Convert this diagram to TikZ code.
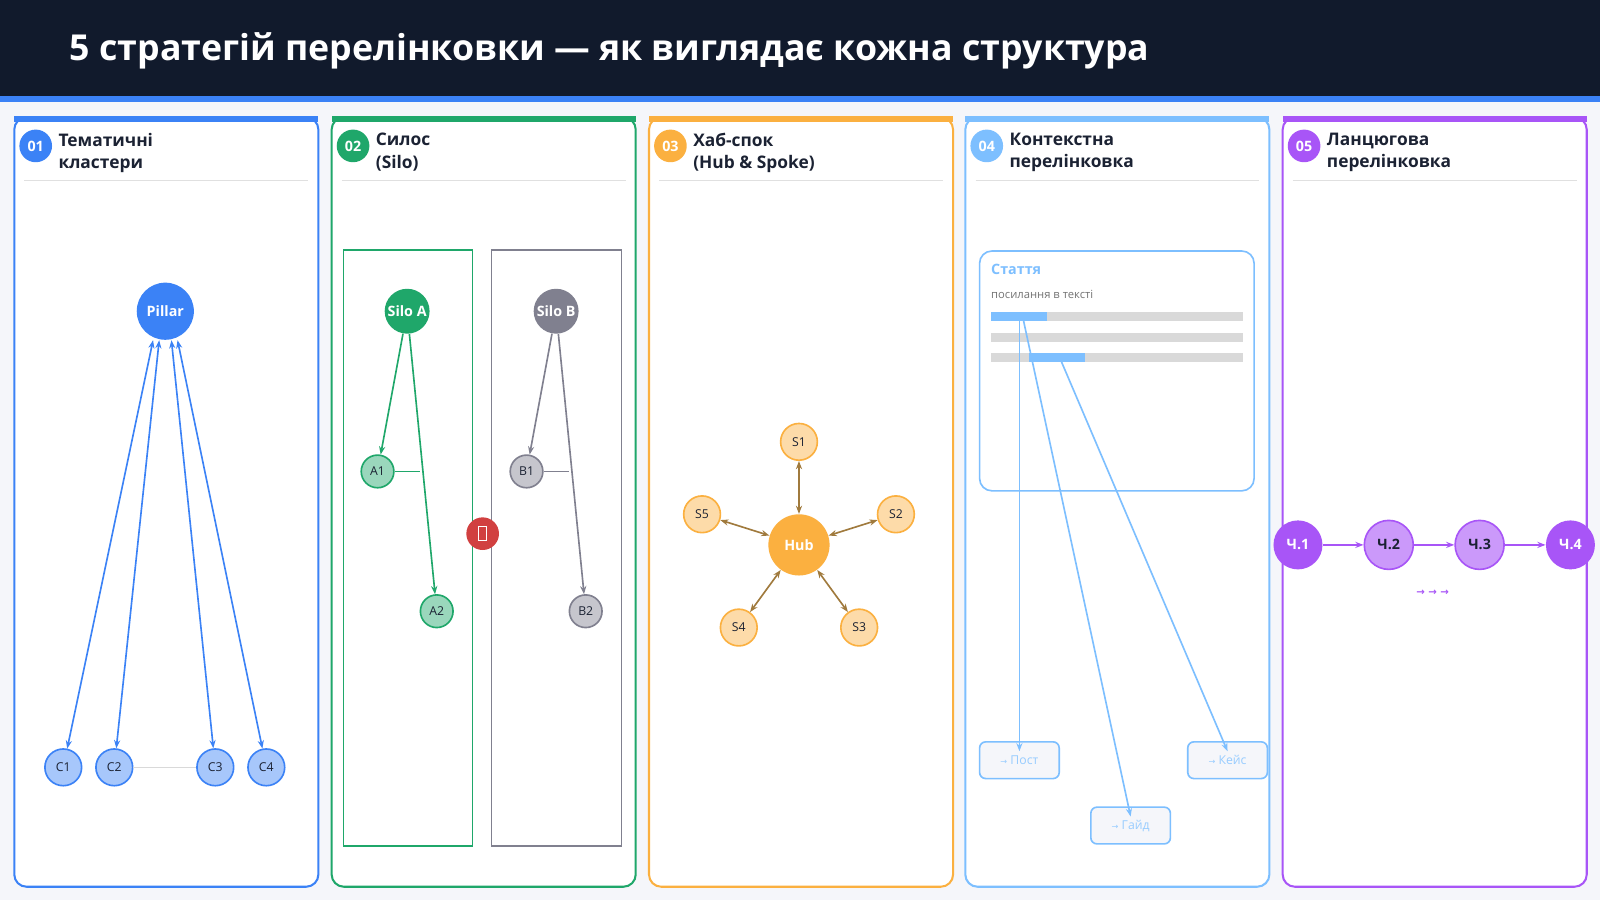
\documentclass[tikz,border=0pt]{standalone}
\usepackage{fontspec}
\setmainfont{Open Sans}
\newfontfamily\symfont{DejaVu Sans}
\usetikzlibrary{arrows.meta,positioning,calc}
\definecolor{navy}{HTML}{111A2C}
\definecolor{pageBg}{HTML}{F5F6FA}
\definecolor{cBlue}{HTML}{3B82F6}
\definecolor{cGreen}{HTML}{1FA76A}
\definecolor{cOrange}{HTML}{FBB040}
\definecolor{cSky}{HTML}{7DBFFF}
\definecolor{cPurple}{HTML}{A855F7}
\definecolor{cGray}{HTML}{80808F}
\definecolor{cInk}{HTML}{1B2233}
\definecolor{cRed}{HTML}{D14040}
\definecolor{cBrown}{HTML}{A07A3D}

\begin{document}
\begin{tikzpicture}[
    x=0.5pt, y=-0.5pt,
    panel/.style={draw=#1, line width=1pt, rounded corners=6pt, fill=white},
    badge/.style={circle, fill=#1, minimum size=16pt, inner sep=0pt, text=white, font=\bfseries\fontsize{7}{8}\selectfont},
    head/.style={anchor=north west, align=left, text=cInk, font=\bfseries\fontsize{8.5}{11}\selectfont, inner sep=0pt},
    big/.style={circle, fill=#1, minimum size=28pt, inner sep=0pt, text=white, font=\bfseries\fontsize{7}{8}\selectfont},
    small/.style={circle, draw=#1, fill=#1!45, line width=0.8pt, minimum size=18pt, inner sep=0pt, text=cInk, font=\fontsize{6}{7}\selectfont},
    link/.style={->, >={Stealth[length=4pt,width=3pt]}, line width=0.8pt},
    linkbox/.style={draw=cSky, line width=0.8pt, rounded corners=3pt, fill=pageBg, minimum width=39pt, minimum height=18pt, text=cSky!80, font=\fontsize{6}{7}\selectfont},
    bar/.style={fill=black!15, draw=none}
]
    % Background and title
    \fill[pageBg] (0,0) rectangle (1568,882);
    \fill[navy] (0,0) rectangle (1568,94);
    \fill[cBlue] (0,94) rectangle (1568,100);
    \node[anchor=west, text=white, font=\bfseries\fontsize{17.5}{20}\selectfont, inner sep=0pt] (title) at (68,50) {5 стратегій перелінковки — як виглядає кожна структура};

    % Panels
    \foreach \px/\col/\num/\txt in {14/cBlue/01/{Тематичні\\кластери}, 325/cGreen/02/{Силос\\(Silo)}, 636/cOrange/03/{Хаб-спок\\(Hub \& Spoke)}, 946/cSky/04/{Контекстна\\перелінковка}, 1257/cPurple/05/{Ланцюгова\\перелінковка}} {
        \draw[panel=\col] (\px,115) rectangle ++(298,754);
        \fill[\col] (\px,114) rectangle ++(298,6);
        \node[badge=\col] at (\px+21,143) {\num};
        \node[head] at (\px+43,130) {\txt};
        \draw[black!12, line width=0.6pt] (\px+10,177) -- (\px+288,177);
    }

    % 01 clusters
    \node[big=cBlue] (pillar) at (162,305) {Pillar};
    \foreach \n/\x in {1/62, 2/112, 3/211, 4/261}
        \node[small=cBlue] (c\n) at (\x,752) {C\n};
    \draw[black!15, line width=0.5pt] (c2) -- (c3);
    \foreach \n/\dx in {1/-6, 2/-3, 3/3, 4/6}
        \draw[link, <->, cBlue] (c\n) -- ([xshift=\dx]pillar.south);

    % 02 silo
    \draw[cGreen, line width=0.6pt] (337,245) rectangle (463,829);
    \draw[cGray, line width=0.6pt] (482,245) rectangle (609,829);
    \node[big=cGreen, minimum size=22pt] (siloA) at (399,305) {Silo A};
    \node[small=cGreen, minimum size=16pt] (a1) at (370,462) {A1};
    \node[small=cGreen, minimum size=16pt] (a2) at (428,599) {A2};
    \node[big=cGray, minimum size=22pt] (siloB) at (545,305) {Silo B};
    \node[small=cGray, minimum size=16pt] (b1) at (516,462) {B1};
    \node[small=cGray, minimum size=16pt] (b2) at (574,599) {B2};
    \coordinate (a1end) at (412,462);
    \coordinate (b1end) at (558,462);
    \draw[cGreen, line width=0.5pt] (a1) -- (a1end);
    \draw[cGray, line width=0.5pt] (b1) -- (b1end);
    \draw[link, cGreen] (siloA) -- (a1);
    \draw[link, cGreen] (siloA) -- (a2);
    \draw[link, cGray] (siloB) -- (b1);
    \draw[link, cGray] (siloB) -- (b2);
    \node[circle, fill=cRed, minimum size=16pt, inner sep=0pt] (stop) at (473,523) {};
    \draw[white, line width=0.6pt] ($(stop)+(-4,-7)$) rectangle ($(stop)+(4,7)$);

    % 03 hub and spoke
    \node[big=cOrange, minimum size=30pt] (hub) at (783,534) {Hub};
    \foreach \n/\x/\y in {1/783/433, 2/878/504, 3/842/615, 4/724/615, 5/688/504} {
        \node[small=cOrange] (s\n) at (\x,\y) {S\n};
        \draw[link, <->, cBrown] (s\n) -- (hub);
    }

    % 04 contextual
    \draw[draw=cSky, line width=0.8pt, rounded corners=6pt, fill=white] (960,246) rectangle (1229,481);
    \node[anchor=west, inner sep=0pt, text=cSky, font=\bfseries\fontsize{7}{8}\selectfont] (art) at (971,264) {Стаття};
    \node[anchor=west, inner sep=0pt, text=black!55, font=\fontsize{5.5}{6}\selectfont] (note) at (971,289) {посилання в тексті};
    \foreach \y in {306, 326, 346}
        \fill[bar] (971,\y) rectangle (1218,\y+9);
    \fill[cSky] (971,306) rectangle (1026,315);
    \fill[cSky] (1008,346) rectangle (1063,355);
    \coordinate (l1) at (999,314);
    \coordinate (l2) at (1003,314);
    \coordinate (l3) at (1040,354);
    \node[linkbox] (post) at (999,745) {{\symfont\fontsize{4}{5}\selectfont →} Пост};
    \node[linkbox] (guide) at (1108,809) {{\symfont\fontsize{4}{5}\selectfont →} Гайд};
    \node[linkbox] (case) at (1203,745) {{\symfont\fontsize{4}{5}\selectfont →} Кейс};
    \draw[link, cSky] (l1) -- ([yshift=-5]post.north);
    \draw[link, cSky] (l2) -- ([yshift=-5]guide.north);
    \draw[link, cSky] (l3) -- ([yshift=-5]case.north);

    % 05 chain
    \node[big=cPurple, minimum size=24pt] (ch1) at (1272,534) {Ч.1};
    \node[big=cPurple!60, draw=cPurple, line width=0.8pt, text=cInk, minimum size=24pt] (ch2) at (1361,534) {Ч.2};
    \node[big=cPurple!60, draw=cPurple, line width=0.8pt, text=cInk, minimum size=24pt] (ch3) at (1450,534) {Ч.3};
    \node[big=cPurple, minimum size=24pt] (ch4) at (1539,534) {Ч.4};
    \foreach \a/\b in {ch1/ch2, ch2/ch3, ch3/ch4}
        \draw[link, cPurple, line width=1.2pt] (\a) -- (\b);
    \node[text=cPurple, font=\symfont\bfseries\fontsize{5}{6}\selectfont, inner sep=0pt] (dots) at (1404,581) {→ → →};

    \useasboundingbox (0,0) rectangle (1568,882);
\end{tikzpicture}
\end{document}
